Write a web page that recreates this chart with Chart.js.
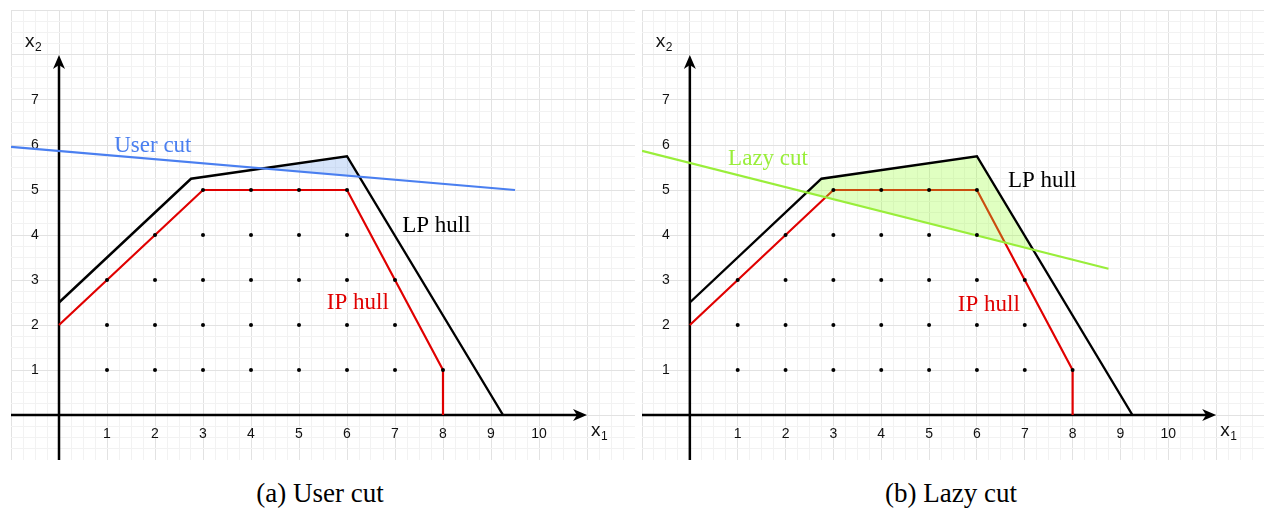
<!DOCTYPE html>
<html>
<head>
<meta charset="utf-8">
<script src="https://cdn.jsdelivr.net/npm/chart.js@4/dist/chart.umd.min.js"></script>
<style>
  body { margin: 0; background: #fff; width: 1264px; height: 511px; overflow: hidden; position: relative; }
  canvas { position: absolute; }
  .cap { position: absolute; top: 478px; width: 400px; text-align: center;
         font: 27px "Liberation Serif", "DejaVu Serif", serif; color: #000; }
</style>
</head>
<body>
<canvas id="panelA" width="624" height="450" style="left:11px;top:10px"></canvas>
<canvas id="panelB" width="622" height="450" style="left:642px;top:10px"></canvas>
<div class="cap" style="left:120px">(a) User cut</div>
<div class="cap" style="left:751px">(b) Lazy cut</div>
<script>
// eixos / ticks
const xTicks = [1, 2, 3, 4, 5, 6, 7, 8, 9, 10];
const yTicks = [1, 2, 3, 4, 5, 6, 7];

// LP hull (preto)
const lpX = [0, 2.75, 6, 9.25];
const lpY = [2.5, 5.25, 5.75, 0];

// IP hull (vermelho)
const ipX = [0, 3, 6, 8, 8];
const ipY = [2, 5, 5, 1, 0];

// pontos inteiros, uma linha por y = 1..5
const latticeRows = [1, 2, 3, 4, 5];
const latticeCols = [
  [1, 2, 3, 4, 5, 6, 7, 8],
  [1, 2, 3, 4, 5, 6, 7],
  [1, 2, 3, 4, 5, 6, 7],
  [2, 3, 4, 5, 6],
  [3, 4, 5, 6]
];

// cortes
const userCutX = [-1, 9.5];
const userCutY = [5.96, 5.0];
const lazyCutX = [-1, 8.75];
const lazyCutY = [5.87, 3.25];

function pts(xs, ys) { return xs.map((x, i) => ({ x: x, y: ys[i] })); }

const dots = [];
latticeRows.forEach((y, i) => latticeCols[i].forEach(x => dots.push({ x: x, y: y })));

// parte do LP hull acima da reta de corte
function clipAbove(px, py, cx, cy) {
  const m = (cy[1] - cy[0]) / (cx[1] - cx[0]);
  const f = (x, y) => y - (cy[0] + m * (x - cx[0]));
  const out = [];
  for (let i = 0; i < px.length; i++) {
    const a = f(px[i], py[i]);
    if (a > 0) out.push({ x: px[i], y: py[i] });
    if (i + 1 < px.length) {
      const b = f(px[i + 1], py[i + 1]);
      if ((a > 0) !== (b > 0)) {
        const t = a / (a - b);
        out.push({ x: px[i] + t * (px[i + 1] - px[i]), y: py[i] + t * (py[i + 1] - py[i]) });
      }
    }
  }
  return out;
}

// desenha eixos, setas e textos
const decor = {
  id: 'decor',
  beforeDatasetsDraw(chart) {
    const ctx = chart.ctx, xs = chart.scales.x, ys = chart.scales.y;
    const x0 = xs.getPixelForValue(0), y0 = ys.getPixelForValue(0);
    const xEnd = xs.getPixelForValue(11), yEnd = ys.getPixelForValue(8);
    ctx.save();
    ctx.strokeStyle = '#000';
    ctx.fillStyle = '#000';
    ctx.lineWidth = 2.5;
    ctx.beginPath();
    ctx.moveTo(xs.getPixelForValue(-1), y0);
    ctx.lineTo(xEnd - 8, y0);
    ctx.moveTo(x0, ys.getPixelForValue(-1));
    ctx.lineTo(x0, yEnd + 8);
    ctx.stroke();
    // setas
    ctx.beginPath();
    ctx.moveTo(xEnd, y0);
    ctx.lineTo(xEnd - 14, y0 - 6);
    ctx.lineTo(xEnd - 10, y0);
    ctx.lineTo(xEnd - 14, y0 + 6);
    ctx.closePath();
    ctx.fill();
    ctx.beginPath();
    ctx.moveTo(x0, yEnd);
    ctx.lineTo(x0 - 6, yEnd + 14);
    ctx.lineTo(x0, yEnd + 10);
    ctx.lineTo(x0 + 6, yEnd + 14);
    ctx.closePath();
    ctx.fill();
    // rotulos dos ticks
    ctx.font = '14px "Liberation Sans", Arial, sans-serif';
    ctx.fillStyle = '#111';
    ctx.textAlign = 'center';
    ctx.textBaseline = 'middle';
    xTicks.forEach(v => ctx.fillText(String(v), xs.getPixelForValue(v), y0 + 19));
    yTicks.forEach(v => ctx.fillText(String(v), x0 - 24, ys.getPixelForValue(v)));
    // x1, x2
    ctx.textAlign = 'left';
    ctx.font = '19px "Liberation Sans", Arial, sans-serif';
    ctx.fillText('x', xEnd + 4, y0 + 16);
    ctx.fillText('x', x0 - 34, yEnd - 13);
    ctx.font = '12px "Liberation Sans", Arial, sans-serif';
    ctx.fillText('1', xEnd + 14, y0 + 22);
    ctx.fillText('2', x0 - 24, yEnd - 7);
    ctx.restore();
  },
  afterDatasetsDraw(chart) {
    const ctx = chart.ctx, xs = chart.scales.x, ys = chart.scales.y;
    const notes = chart.options.plugins.decor.notes;
    ctx.save();
    ctx.font = '23px "Liberation Serif", "Times New Roman", serif';
    ctx.textAlign = 'left';
    ctx.textBaseline = 'middle';
    notes.forEach(n => {
      ctx.fillStyle = n.color;
      ctx.fillText(n.text, xs.getPixelForValue(n.x), ys.getPixelForValue(n.y));
    });
    ctx.restore();
  }
};

function gridColor(c) {
  const v = c.tick ? c.tick.value : 0;
  return Math.abs(v - Math.round(v)) < 1e-6 ? '#e2e2e2' : '#f2f2f2';
}

function makePanel(id, cutX, cutY, cutColor, fillColor, fillOrder, notes) {
  const scaleOpts = (min, max) => ({
    type: 'linear', min: min, max: max,
    ticks: { display: false, stepSize: 0.25, autoSkip: false },
    grid: { color: gridColor, drawTicks: false, lineWidth: 1 },
    border: { display: false }
  });
  new Chart(document.getElementById(id), {
    type: 'scatter',
    data: {
      datasets: [
        { data: clipAbove(lpX, lpY, cutX, cutY), showLine: true, fill: 'shape',
          backgroundColor: fillColor, borderWidth: 0, pointRadius: 0, order: fillOrder },
        { data: dots, pointRadius: 2, pointBackgroundColor: '#000', pointBorderWidth: 0, order: 0 },
        { data: pts(ipX, ipY), showLine: true, borderColor: '#e00000', borderWidth: 2.2, pointRadius: 0, order: 5 },
        { data: pts(lpX, lpY), showLine: true, borderColor: '#000', borderWidth: 2.4, pointRadius: 0, order: 3 },
        { data: pts(cutX, cutY), showLine: true, borderColor: cutColor, borderWidth: 2.2, pointRadius: 0, order: 1 }
      ]
    },
    options: {
      responsive: false,
      animation: false,
      events: [],
      layout: { padding: 0, autoPadding: false },
      scales: { x: scaleOpts(-1, 12), y: scaleOpts(-1, 9) },
      plugins: { legend: { display: false }, tooltip: { enabled: false }, decor: { notes: notes } }
    },
    plugins: [decor]
  });
}

makePanel('panelA', userCutX, userCutY, '#4a7ff0', 'rgba(120,165,240,0.3)', 7, [
  { text: 'User cut', x: 1.15, y: 5.98, color: '#4a7ff0' },
  { text: 'LP hull', x: 7.15, y: 4.2, color: '#000' },
  { text: 'IP hull', x: 5.58, y: 2.5, color: '#e00000' }
]);
makePanel('panelB', lazyCutX, lazyCutY, '#99ee3a', 'rgba(153,255,51,0.3)', 4, [
  { text: 'Lazy cut', x: 0.8, y: 5.7, color: '#99ee3a' },
  { text: 'LP hull', x: 6.65, y: 5.2, color: '#000' },
  { text: 'IP hull', x: 5.6, y: 2.45, color: '#e00000' }
]);
</script>
</body>
</html>
